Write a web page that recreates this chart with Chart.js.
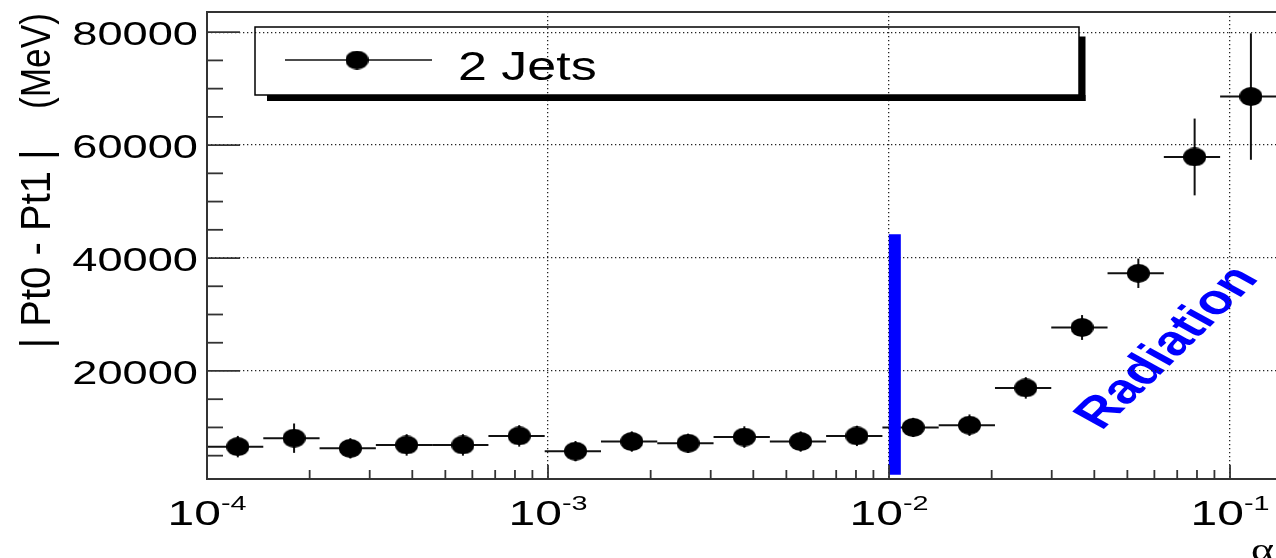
<!DOCTYPE html>
<html>
<head>
<meta charset="utf-8">
<script src="https://cdn.jsdelivr.net/npm/chart.js@4.4.1/dist/chart.umd.min.js"></script>
<style>
  html, body { margin: 0; padding: 0; background: #fff; }
  canvas { display: block; }
</style>
</head>
<body>
<canvas id="c" width="1276" height="558"></canvas>
<script>
// Bin edges in alpha (20 log-uniform bins from 1e-4 to 0.2, the last one beyond the frame)
const binEdges = [
  1.00000e-4, 1.46235e-4, 2.13847e-4, 3.12719e-4, 4.57306e-4,
  6.68741e-4, 9.77934e-4, 1.43008e-3, 2.09128e-3, 3.05819e-3,
  4.47214e-3, 6.53983e-3, 9.56353e-3, 1.39852e-2, 2.04513e-2,
  2.99070e-2, 4.37345e-2, 6.39553e-2, 9.35250e-2, 1.36766e-1
];
// Mean |Pt0 - Pt1| per bin (MeV) and its error
const pairDiff = [
  6600, 8100, 6300, 6900, 6900, 8500, 5800, 7500, 7200, 8300,
  7500, 8500, 10000, 10400, 17000, 27700, 37300, 57900, 68600
];
const pairDiffErr = [
  1900, 2600, 1800, 1900, 1900, 1900, 1800, 1800, 1700, 1900,
  1800, 1800, 1700, 1900, 1900, 2200, 2600, 6800, 11200
];
const seriesName = '2 Jets';

// Axes
const xRange = [1e-4, 0.1364];
const yRange = [868, 83573];
const xTickValues = [1e-4, 1e-3, 1e-2, 1e-1];
const xTickBase = ['10', '10', '10', '10'];
const xTickExponents = ['-4', '-3', '-2', '-1'];
const yTickValues = [20000, 40000, 60000, 80000];
const yTickLabels = ['20000', '40000', '60000', '80000'];
const yMinorStep = 5000;
const xTitle = 'α';
const yTitleMain = '| Pt0 - Pt1 |';
const yTitleUnit = '(MeV)';

// Vertical cut line and its annotation
const cutAlpha = [0.0104, 0.0104];
const cutRange = [1600, 44200];
const annotationText = 'Radiation';

const FONT = '"Liberation Sans", Arial, Helvetica, sans-serif';
const SX = 1.37;           // horizontal stretch of the lettering
const AXIS = '#333';

const binCenters = pairDiff.map((_, i) => (binEdges[i] + binEdges[i + 1]) / 2);
const points = pairDiff.map((v, i) => ({ x: binCenters[i], y: v }));
const cutLine = cutAlpha.map((a, i) => ({ x: a, y: cutRange[i] }));

function makeMarker(w, h) {
  const c = document.createElement('canvas');
  c.width = w; c.height = h;
  const g = c.getContext('2d');
  g.fillStyle = '#000';
  g.beginPath();
  g.ellipse(w / 2, h / 2, w / 2, h / 2, 0, 0, Math.PI * 2);
  g.fill();
  return c;
}
const marker = makeMarker(23, 19);

function line(ctx, x1, y1, x2, y2) {
  ctx.beginPath(); ctx.moveTo(x1, y1); ctx.lineTo(x2, y2); ctx.stroke();
}

// Text stretched horizontally; align by advance box
function sText(ctx, str, x, y, px, align, opts = {}) {
  ctx.save();
  ctx.font = `${opts.bold ? 'bold ' : ''}${px}px ${opts.family || FONT}`;
  ctx.fillStyle = opts.color || '#000';
  ctx.textBaseline = 'alphabetic';
  ctx.textAlign = align;
  ctx.translate(x, y);
  ctx.scale(opts.sx || SX, 1);
  ctx.fillText(str, 0, 0);
  ctx.restore();
}

// Rotated (bottom-to-top) title fitted between two screen y values
function rotatedFit(ctx, str, px, baseX, startY, endY, hStretch) {
  ctx.save();
  ctx.font = `${px}px ${FONT}`;
  const m = ctx.measureText(str);
  const ink = m.actualBoundingBoxLeft + m.actualBoundingBoxRight;
  const sLen = (startY - endY) / ink;
  ctx.translate(baseX, startY);
  ctx.rotate(-Math.PI / 2);
  ctx.scale(sLen, hStretch);
  ctx.fillStyle = '#000';
  ctx.textAlign = 'left';
  ctx.textBaseline = 'alphabetic';
  ctx.fillText(str, m.actualBoundingBoxLeft, 0);
  ctx.restore();
}

const errorBars = {
  id: 'errorBars',
  beforeDatasetsDraw(chart) {
    const { ctx, scales: { x, y } } = chart;
    ctx.save();
    ctx.strokeStyle = '#111';
    ctx.lineWidth = 2;
    pairDiff.forEach((v, i) => {
      const py = y.getPixelForValue(v);
      const px = x.getPixelForValue(binCenters[i]);
      line(ctx, x.getPixelForValue(binEdges[i]), py, x.getPixelForValue(binEdges[i + 1]), py);
      line(ctx, px, y.getPixelForValue(v - pairDiffErr[i]), px, y.getPixelForValue(v + pairDiffErr[i]));
    });
    ctx.restore();
  }
};

const annotation = {
  id: 'annotation',
  beforeDraw(chart) {
    const { ctx } = chart;
    ctx.save();
    ctx.translate(1168, 348);
    ctx.scale(SX, 1);
    ctx.rotate(-52.9 * Math.PI / 180);
    ctx.font = `bold 42px ${FONT}`;
    ctx.fillStyle = '#0000ff';
    ctx.textAlign = 'center';
    ctx.textBaseline = 'middle';
    ctx.fillText(annotationText, 0, 0);
    ctx.restore();
  }
};

const frame = {
  id: 'frame',
  afterDatasetsDraw(chart) {
    const { ctx, chartArea: a, scales: { x, y } } = chart;
    ctx.save();
    ctx.strokeStyle = AXIS;
    ctx.lineWidth = 2;
    // frame
    line(ctx, a.left, a.top, a.right, a.top);
    line(ctx, a.left, a.top - 1, a.left, a.bottom + 1);
    line(ctx, a.left - 1, a.bottom, a.right, a.bottom);

    // y ticks
    ctx.lineWidth = 1.8;
    for (let v = yMinorStep; v < yRange[1]; v += yMinorStep) {
      const py = y.getPixelForValue(v);
      const len = yTickValues.includes(v) ? 33 : 16;
      line(ctx, a.left, py, a.left + len, py);
    }
    // x ticks
    xTickValues.forEach(d => {
      const px = x.getPixelForValue(d);
      line(ctx, px, a.bottom, px, a.bottom - 14);
      for (let m = 2; m <= 9; m++) {
        const v = m * d;
        if (v > xRange[1]) break;
        const pm = x.getPixelForValue(v);
        line(ctx, pm, a.bottom, pm, a.bottom - 9);
      }
    });

    // y tick labels
    yTickValues.forEach((v, i) => {
      sText(ctx, yTickLabels[i], 198, y.getPixelForValue(v) + 13, 33, 'right');
    });

    // x tick labels: base with superscript exponent
    xTickValues.forEach((v, i) => {
      ctx.font = `35px ${FONT}`;
      const wb = ctx.measureText(xTickBase[i]).width * SX;
      ctx.font = `21px ${FONT}`;
      const we = ctx.measureText(xTickExponents[i]).width * SX;
      const x0 = x.getPixelForValue(v) - (wb + we) / 2;
      sText(ctx, xTickBase[i], x0, 525, 35, 'left');
      sText(ctx, xTickExponents[i], x0 + wb, 510, 21, 'left');
    });

    // axis titles
    sText(ctx, xTitle, 1274, 560, 32, 'right', { family: '"Liberation Serif", "DejaVu Serif", serif' });
    rotatedFit(ctx, yTitleMain, 36, 50, 345, 152, 1.2);
    rotatedFit(ctx, yTitleUnit, 36, 50, 107, 15, 1.2);

    // legend with drop shadow
    ctx.fillStyle = '#000';
    ctx.fillRect(267, 95, 1085.5 - 267, 6);
    ctx.fillRect(1079, 36.5, 6.5, 101 - 36.5);
    ctx.strokeStyle = '#000';
    ctx.lineWidth = 1.5;
    ctx.strokeRect(255, 27, 1079 - 255, 95 - 27);
    ctx.lineWidth = 1.6;
    ctx.strokeStyle = '#111';
    line(ctx, 285, 60, 432, 60);
    ctx.drawImage(marker, 357 - marker.width / 2, 60 - marker.height / 2);
    sText(ctx, seriesName, 458, 80, 40, 'left', { sx: 1.3 });
    ctx.restore();
  }
};

new Chart(document.getElementById('c'), {
  type: 'scatter',
  data: {
    datasets: [
      {
        label: 'cut',
        type: 'line',
        data: cutLine,
        borderColor: '#0000ff',
        borderWidth: 12,
        borderCapStyle: 'butt',
        pointRadius: 0,
        fill: false
      },
      {
        label: seriesName,
        data: points,
        pointStyle: marker,
        pointRadius: 10,
        backgroundColor: '#000',
        borderColor: '#000'
      }
    ]
  },
  options: {
    responsive: false,
    animation: false,
    devicePixelRatio: 1,
    layout: { autoPadding: false, padding: { left: 207, top: 12, right: 0, bottom: 79 } },
    plugins: { legend: { display: false }, tooltip: { enabled: false } },
    scales: {
      x: {
        type: 'logarithmic',
        min: xRange[0],
        max: xRange[1],
        afterFit(s) { s.height = 0; },
        afterBuildTicks(s) { s.ticks = xTickValues.slice(1).map(v => ({ value: v })); },
        ticks: { display: false },
        grid: { color: '#222', lineWidth: 1.3, drawTicks: false },
        border: { display: false, dash: [1.3, 2.7] }
      },
      y: {
        type: 'linear',
        min: yRange[0],
        max: yRange[1],
        afterFit(s) { s.width = 0; },
        afterBuildTicks(s) { s.ticks = yTickValues.map(v => ({ value: v })); },
        ticks: { display: false },
        grid: { color: '#222', lineWidth: 1.3, drawTicks: false },
        border: { display: false, dash: [1.3, 2.7] }
      }
    }
  },
  plugins: [annotation, errorBars, frame]
});
</script>
</body>
</html>
